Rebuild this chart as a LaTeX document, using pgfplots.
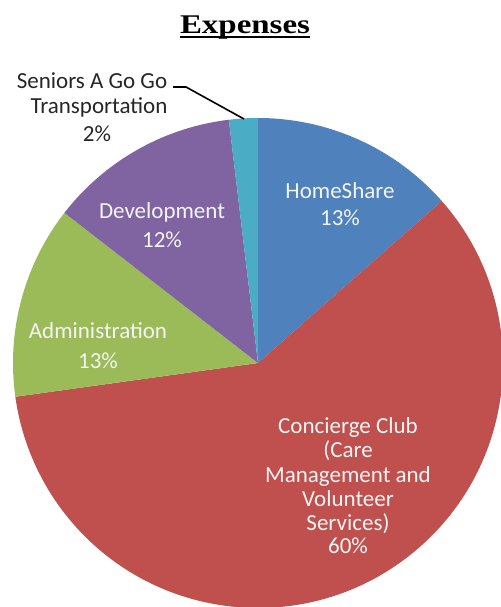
\documentclass[border=0pt]{standalone}
\usepackage{fontspec}
\usepackage{pgfplots}
\usepackage{pgfplotstable}
\pgfplotsset{compat=1.18}
\setmainfont{Carlito}
\newfontfamily\titlefont{Liberation Serif}

\definecolor{s0}{HTML}{4F81BD}
\definecolor{s1}{HTML}{C0504D}
\definecolor{s2}{HTML}{9BBB59}
\definecolor{s3}{HTML}{8064A2}
\definecolor{s4}{HTML}{4BACC6}
\definecolor{lbl}{HTML}{F4F4F4}

\tikzset{lab/.style={inner sep=0pt, anchor=base, font=\fontsize{23bp}{26bp}\selectfont}}

% share of expenses in percent, clockwise from 12 o'clock
\pgfplotstableread{
label share
HomeShare 13.5
Concierge 59.3
Administration 12.7
Development 12.6
Seniors 1.9
}\expenses

\begin{document}
\begin{tikzpicture}
\useasboundingbox (0,0) rectangle (501bp,607bp);
\clip (0,0) rectangle (501bp,607bp);
\begin{axis}[at={(0,0)}, anchor=south west,
             x=1bp, y=1bp,
             xmin=0, xmax=501, ymin=0, ymax=607,
             hide axis, clip=false]
\pgfmathsetmacro\startang{90}
\pgfplotsforeachungrouped \i in {0,...,4}{%
  \pgfplotstablegetelem{\i}{share}\of\expenses
  \pgfmathsetmacro\endang{\startang-3.6*\pgfplotsretval}%
  \edef\wedge{\noexpand\fill[s\i] (axis cs:258,244) -- ++(\startang:245bp)
    arc[start angle=\startang, end angle=\endang, radius=245bp] -- cycle;}%
  \wedge
  \global\let\startang\endang
}

% title
\node[inner sep=0pt, anchor=base, font=\titlefont\bfseries\fontsize{27bp}{30bp}\selectfont]
  at (axis cs:245,574) {\scalebox{1.22}[1]{Expenses}};
\draw[line width=1.5bp] (axis cs:180,570) -- (axis cs:310,570);

% slice labels
\node[lab, text=lbl] at (axis cs:340,409) {HomeShare};
\node[lab, text=lbl] at (axis cs:340,382) {13\%};
\node[lab, text=lbl] at (axis cs:162,389) {Development};
\node[lab, text=lbl] at (axis cs:162,360) {12\%};
\node[lab, text=lbl] at (axis cs:98,269) {Administration};
\node[lab, text=lbl] at (axis cs:98,239) {13\%};
\node[lab, text=lbl] at (axis cs:348,174) {Concierge Club};
\node[lab, text=lbl] at (axis cs:348,150) {(Care};
\node[lab, text=lbl] at (axis cs:348,125) {Management and};
\node[lab, text=lbl] at (axis cs:348,101) {Volunteer};
\node[lab, text=lbl] at (axis cs:348,77) {Services)};
\node[lab, text=lbl] at (axis cs:348,54) {60\%};

\node[lab, text=black!85] at (axis cs:92,519) {Seniors A Go Go};
\node[lab, text=black!85] at (axis cs:99,494) {Transportation};
\node[lab, text=black!85] at (axis cs:97,466) {2\%};
\draw[line width=1.6bp] (axis cs:173,520) -- (axis cs:186,520) -- (axis cs:244,488);
\end{axis}
\end{tikzpicture}
\end{document}
